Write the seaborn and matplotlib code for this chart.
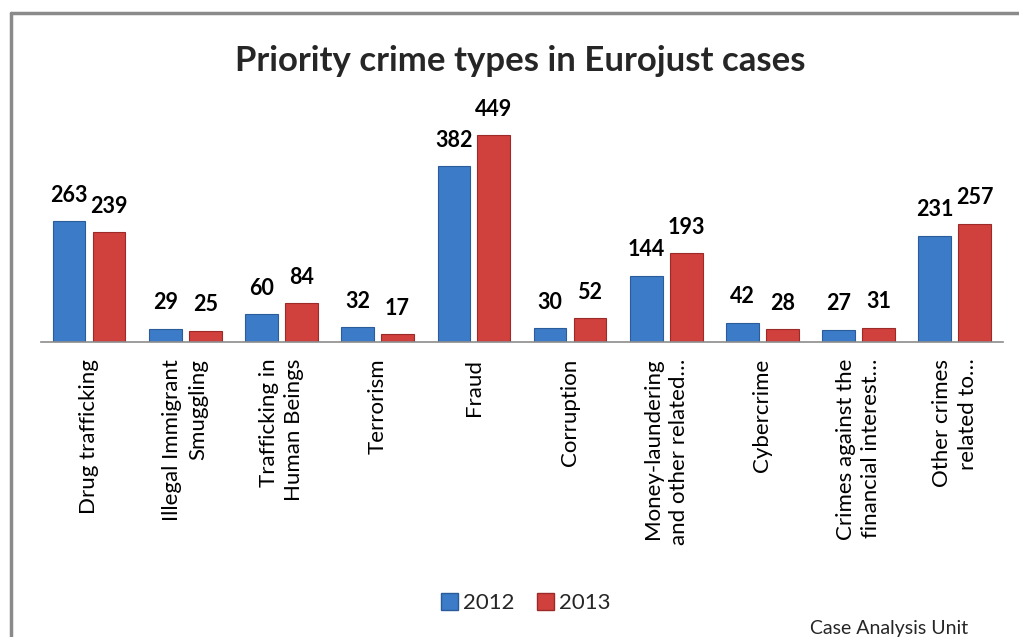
import pandas as pd
import numpy as np
import matplotlib.pyplot as plt
import seaborn as sns
from matplotlib.lines import Line2D

# --- DATI ---
categories = [
    "Drug trafficking",
    "Illegal Immigrant\nSmuggling",
    "Trafficking in\nHuman Beings",
    "Terrorism",
    "Fraud",
    "Corruption",
    "Money-laundering\nand other related\u2026",
    "Cybercrime",
    "Crimes against the\nfinancial interest\u2026",
    "Other crimes\nrelated to\u2026",
]
values_2012 = [263, 29, 60, 32, 382, 30, 144, 42, 27, 231]
values_2013 = [239, 25, 84, 17, 449, 52, 193, 28, 31, 257]
years = ["2012", "2013"]

colors = ["#3C7BC8", "#D0403C"]
edges = ["#2B5C9A", "#9C2A28"]

df = pd.DataFrame({
    "Crime": categories * 2,
    "Year": [years[0]] * len(categories) + [years[1]] * len(categories),
    "Cases": values_2012 + values_2013,
})

sns.set_style("white")
plt.rcParams["font.family"] = ["Lato", "DejaVu Sans"]

fig = plt.figure(figsize=(10.19, 6.37), dpi=100)
ax = fig.add_axes([0.0402, 0.463, 0.944, 0.38])

sns.barplot(data=df, x="Crime", y="Cases", hue="Year", palette=colors,
            width=0.83, gap=0.18, ax=ax, legend=False, saturation=1)

for i, cont in enumerate(ax.containers):
    for p in cont:
        p.set_edgecolor(edges[i])
        p.set_linewidth(0.8)
    ax.bar_label(cont, padding=11, fontsize=15.5, fontweight="bold", color="black")

ax.set_xlim(-0.5, 9.5)
ax.set_ylim(0, 525)
ax.set_xlabel("")
ax.set_ylabel("")
ax.set_yticks([])
for s in ["left", "right", "top"]:
    ax.spines[s].set_visible(False)
ax.spines["bottom"].set_color("#8c8c8c")
ax.spines["bottom"].set_linewidth(1.2)
ax.tick_params(axis="x", length=0, pad=12)
ax.set_xticks(range(len(categories)))
ax.set_xticklabels(categories, rotation=90, fontsize=16, va="top", ha="center",
                   multialignment="right", color="black", linespacing=1.35)

fig.text(0.511, 0.905, "Priority crime types in Eurojust cases",
         ha="center", va="center", fontsize=25, fontweight="bold")

# legenda
handles = [plt.Rectangle((0, 0), 1, 1, facecolor=colors[i], edgecolor=edges[i])
           for i in range(2)]
fig.legend(handles, years, loc="center", bbox_to_anchor=(0.516, 0.053), ncol=2,
           frameon=False, fontsize=16, handlelength=0.75, handleheight=0.75,
           handletextpad=0.25, columnspacing=1.0)

fig.text(0.95, 0.013, "Case Analysis Unit", ha="right", va="center", fontsize=14)

# cornice grigia
fig.add_artist(Line2D([0.0108, 0.0108], [0.0, 0.9795], color="#8a8a8a", lw=2.5,
                      transform=fig.transFigure))
fig.add_artist(Line2D([0.0108, 1.0], [0.9795, 0.9795], color="#8a8a8a", lw=2.5,
                      transform=fig.transFigure))

fig.savefig("out.png", dpi=100)
